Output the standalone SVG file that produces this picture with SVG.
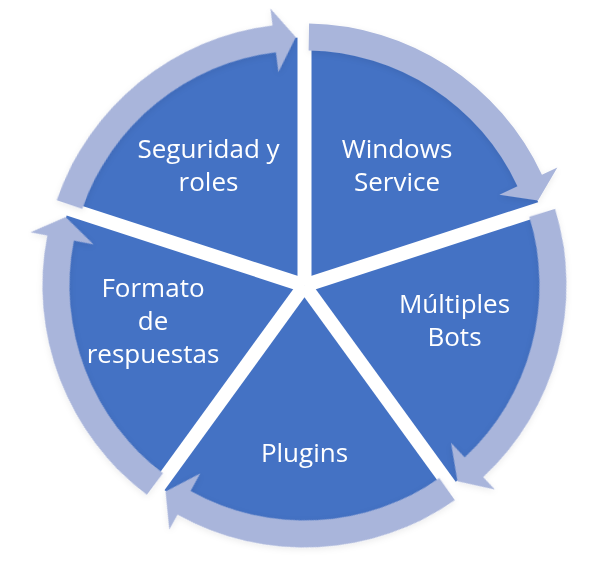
<svg xmlns="http://www.w3.org/2000/svg" width="612" height="569" viewBox="0 0 612 569">
<style>
.pie{fill:#4472C4}
.gap{stroke:#FFFFFF;stroke-width:14;fill:none}
.ring{fill:#A9B5DB}
.lbl{font-family:"Open Sans","Noto Sans","Liberation Sans",sans-serif;font-size:26px;fill:#FFFFFF;text-anchor:middle}
</style>
<defs>
<filter id="sh" x="-10%" y="-10%" width="120%" height="120%">
<feDropShadow dx="0" dy="2" stdDeviation="3" flood-color="#000000" flood-opacity="0.08"/>
</filter>
<path id="arrow" d="M309.07,23.54 A262,262 0 0 1 541.95,174.77 L557.36,167.59 L538.01,200.51 L499.36,194.64 L517.48,186.18 A235,235 0 0 0 308.60,50.54 Z"/>
</defs>
<g id="pie">
<circle class="pie" cx="304.5" cy="285.5" r="248"/>
</g>
<g id="connectors">
<g id="gaps">
<line class="gap" x1="304.5" y1="285.5" x2="304.5" y2="25.5"/>
<line class="gap" x1="304.5" y1="285.5" x2="304.5" y2="25.5" transform="rotate(72 304.5 285.5)"/>
<line class="gap" x1="304.5" y1="285.5" x2="304.5" y2="25.5" transform="rotate(144 304.5 285.5)"/>
<line class="gap" x1="304.5" y1="285.5" x2="304.5" y2="25.5" transform="rotate(216 304.5 285.5)"/>
<line class="gap" x1="304.5" y1="285.5" x2="304.5" y2="25.5" transform="rotate(288 304.5 285.5)"/>
</g>
<g id="arrows" filter="url(#sh)">
<use href="#arrow" class="ring"/>
<use href="#arrow" class="ring" transform="rotate(72 304.5 285.5)"/>
<use href="#arrow" class="ring" transform="rotate(144 304.5 285.5)"/>
<use href="#arrow" class="ring" transform="rotate(216 304.5 285.5)"/>
<use href="#arrow" class="ring" transform="rotate(288 304.5 285.5)"/>
</g>
</g>
<g id="node-windows">
<text class="lbl" x="397" y="158">Windows</text>
<text class="lbl" x="397" y="191">Service</text>
</g>
<g id="node-bots">
<text class="lbl" x="454.5" y="313">Múltiples</text>
<text class="lbl" x="454.5" y="346">Bots</text>
</g>
<g id="node-plugins">
<text class="lbl" x="304.5" y="462">Plugins</text>
</g>
<g id="node-formato">
<text class="lbl" x="153" y="297">Formato</text>
<text class="lbl" x="153" y="330">de</text>
<text class="lbl" x="153" y="363">respuestas</text>
</g>
<g id="node-seguridad">
<text class="lbl" x="208.5" y="158">Seguridad y</text>
<text class="lbl" x="208.5" y="191">roles</text>
</g>
</svg>
